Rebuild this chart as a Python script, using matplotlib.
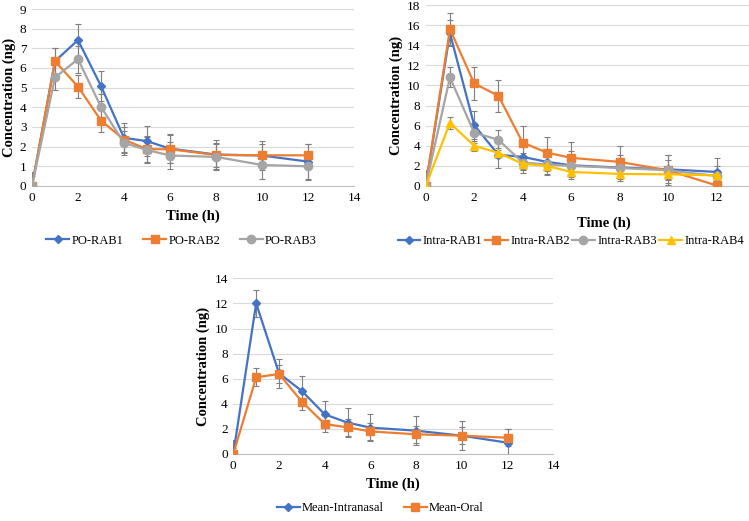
import matplotlib
matplotlib.use("Agg")
import matplotlib.pyplot as plt
from matplotlib.lines import Line2D

plt.rcParams['font.family'] = ['Liberation Serif', 'DejaVu Serif']

time = [0, 1, 2, 3, 4, 5, 6, 8, 10, 12]

# Panel 1: oral
po_rab1 = [0, 6.35, 7.42, 5.08, 2.45, 2.28, 1.9, 1.6, 1.55, 1.24]
po_rab1_err = [0.7, 0.65, 0.8, 0.77, 0.75, 0.77, 0.75, 0.75, 0.75, 0.9]
po_rab2 = [0, 6.35, 5.05, 3.33, 2.36, 1.87, 1.87, 1.58, 1.56, 1.56]
po_rab2_err = [0.5, 0.65, 0.6, 0.6, 0.65, 0.65, 0.7, 0.6, 0.6, 0.6]
po_rab3 = [0, 5.52, 6.45, 4.02, 2.19, 1.83, 1.55, 1.48, 1.07, 1.0]
po_rab3_err = [0.6, 0.65, 0.68, 0.65, 0.6, 0.64, 0.67, 0.65, 0.7, 0.7]

# Panel 2: intranasal
in_rab1 = [0, 15.2, 6.05, 3.1, 2.9, 2.4, 2.06, 1.83, 1.66, 1.4]
in_rab1_err = [1.3, 1.3, 1.4, 1.3, 1.3, 1.3, 1.4, 1.3, 1.4, 1.35]
in_rab2 = [0, 15.6, 10.2, 8.97, 4.32, 3.32, 2.8, 2.4, 1.56, 0.05]
in_rab2_err = [1.6, 1.6, 1.6, 1.6, 1.6, 1.6, 1.6, 1.6, 1.5, 0.0]
in_rab3 = [0, 10.8, 5.3, 4.6, 2.33, 2.15, 2.0, 1.8, 1.56, 1.0]
in_rab3_err = [1.0, 1.0, 1.0, 1.0, 1.0, 1.0, 1.0, 1.0, 1.0, 1.0]
in_rab4 = [0, 6.28, 4.0, 3.3, 2.22, 2.0, 1.4, 1.2, 1.16, 1.06]
in_rab4_err = [0.6, 0.6, 0.5, 0.5, 0.5, 0.5, 0.5, 0.5, 0.5, 0.5]

# Panel 3: means
mean_in = [0, 12.0, 6.43, 5.02, 3.16, 2.5, 2.1, 1.86, 1.46, 0.9]
mean_in_err = [1.1, 1.1, 1.15, 1.2, 1.1, 1.14, 1.1, 1.14, 1.14, 1.1]
mean_or = [0, 6.11, 6.38, 4.17, 2.39, 2.12, 1.8, 1.57, 1.46, 1.3]
mean_or_err = [0.5, 0.72, 0.7, 0.7, 0.65, 0.7, 0.7, 0.7, 0.7, 0.7]

BLUE = '#4472C4'
ORANGE = '#ED7D31'
GRAY = '#A5A5A5'
YELLOW = '#FFC000'
ERR = '#7F7F7F'

W, H = 749, 521
fig = plt.figure(figsize=(W / 100, H / 100), dpi=100)


def make_ax(left, right, top, bottom):
    return fig.add_axes([left / W, 1 - bottom / H, (right - left) / W, (bottom - top) / H])


def style(ax, ymax, ystep):
    ax.set_xlim(0, 14)
    ax.set_ylim(0, ymax)
    ax.set_xticks(range(0, 15, 2))
    ax.set_yticks(range(0, ymax + 1, ystep))
    ax.grid(axis='y', color='#D9D9D9', linewidth=0.8)
    ax.set_axisbelow(True)
    for s in ['top', 'right', 'left']:
        ax.spines[s].set_visible(False)
    ax.spines['bottom'].set_color('#BFBFBF')
    ax.tick_params(length=0, labelsize=9.5, pad=4)
    ax.set_xlabel('Time (h)', fontsize=10.5, fontweight='bold', labelpad=4)
    ax.set_ylabel('Concentration (ng)', fontsize=10.5, fontweight='bold', labelpad=3)


def series(ax, y, err, color, marker, ms, label):
    ax.errorbar(time, y, yerr=err, color=color, marker=marker, markersize=ms,
                linewidth=1.6, ecolor=ERR, elinewidth=0.8, capsize=2.2, capthick=0.8,
                zorder=3)
    return Line2D([], [], color=color, marker=marker, markersize=ms, linewidth=1.6, label=label)


def legend(ax, handles, x, y, colsp):
    ax.legend(handles=handles, loc='center', bbox_to_anchor=(x, y), ncol=len(handles),
              frameon=False, fontsize=9, handlelength=1.8, handletextpad=0.2,
              columnspacing=colsp)


# Panel 1
ax1 = make_ax(32, 354, 9, 186)
h = [series(ax1, po_rab1, po_rab1_err, BLUE, 'D', 4.5, 'PO-RAB1'),
     series(ax1, po_rab2, po_rab2_err, ORANGE, 's', 6, 'PO-RAB2'),
     series(ax1, po_rab3, po_rab3_err, GRAY, 'o', 6, 'PO-RAB3')]
style(ax1, 9, 1)
legend(ax1, h, 0.465, -0.31, 1.6)

# Panel 2
ax2 = make_ax(425.7, 765, 5, 186)
h = [series(ax2, in_rab1, in_rab1_err, BLUE, 'D', 4.5, 'Intra-RAB1'),
     series(ax2, in_rab2, in_rab2_err, ORANGE, 's', 6, 'Intra-RAB2'),
     series(ax2, in_rab3, in_rab3_err, GRAY, 'o', 6, 'Intra-RAB3'),
     series(ax2, in_rab4, in_rab4_err, YELLOW, '^', 6, 'Intra-RAB4')]
style(ax2, 18, 2)
ax2.set_xticks(range(0, 13, 2))
ax2.xaxis.set_label_coords(178 / 339.3, -0.17)
legend(ax2, h, ((394 + 748) / 2 - 425.7) / 339.3, -0.305, 0.2)

# Panel 3
ax3 = make_ax(233.3, 553.3, 278.3, 454)
h = [series(ax3, mean_in, mean_in_err, BLUE, 'D', 4.5, 'Mean-Intranasal'),
     series(ax3, mean_or, mean_or_err, ORANGE, 's', 6, 'Mean-Oral')]
style(ax3, 14, 2)
legend(ax3, h, 0.46, -0.31, 1.6)

fig.savefig('out.png', dpi=100)
